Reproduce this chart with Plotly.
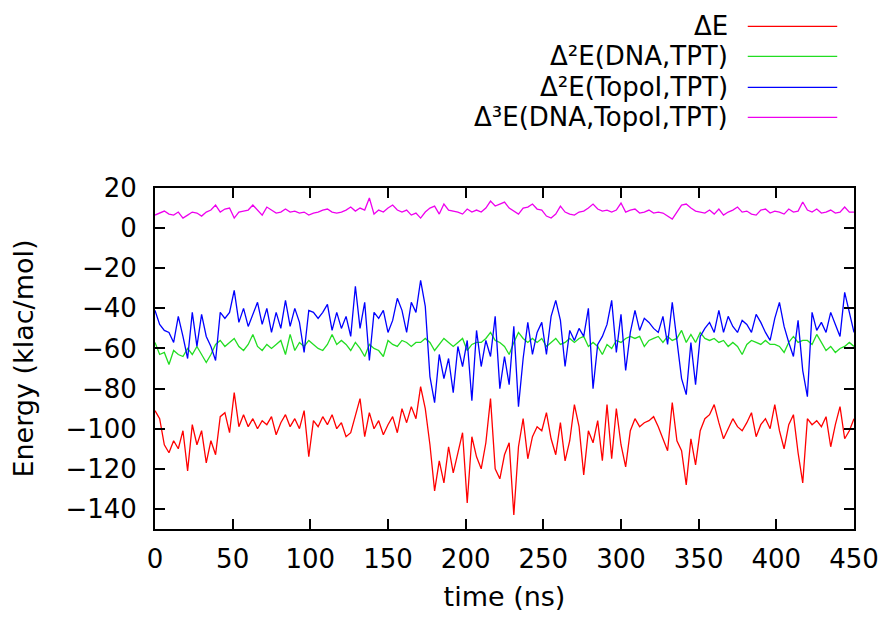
import plotly.graph_objects as go

# time axis (ns), one sample every 3 ns
time_ns = list(range(0, 451, 3))

dE = [
    -91, -95, -108, -112, -106, -110, -101, -121, -98, -108,
    -101, -117, -106, -113, -94, -92, -102, -82, -99, -93,
    -99, -95, -100, -96, -98, -94, -103, -97, -93, -99,
    -95, -100, -91, -114, -96, -99, -94, -98, -93, -100,
    -97, -104, -102, -93, -85, -104, -92, -100, -96, -103,
    -98, -94, -102, -90, -97, -89, -95, -79, -90, -108,
    -131, -116, -127, -109, -122, -112, -102, -137, -104, -114,
    -120, -107, -85, -120, -125, -113, -107, -143, -109, -95,
    -115, -104, -99, -101, -92, -105, -113, -97, -116, -106,
    -88, -99, -123, -101, -107, -96, -116, -88, -115, -90,
    -108, -119, -101, -95, -99, -97, -96, -94, -99, -105,
    -111, -87, -106, -111, -128, -105, -118, -101, -95, -93,
    -88, -97, -105, -100, -95, -99, -101, -97, -92, -104,
    -98, -95, -100, -88, -101, -110, -98, -93, -112, -127,
    -95, -98, -96, -99, -94, -109, -98, -89, -105, -101,
    -95,
]

d2E_dna_tpt = [
    -57, -63, -62, -68, -61, -63, -64, -60, -63, -59,
    -63, -67, -63, -58, -56, -59, -57, -55, -59, -61,
    -58, -53, -59, -61, -58, -60, -58, -56, -63, -53,
    -61, -57, -59, -56, -58, -60, -61, -58, -53, -58,
    -56, -58, -61, -57, -60, -64, -58, -60, -61, -64,
    -56, -58, -59, -56, -57, -59, -57, -57, -55, -57,
    -61, -58, -55, -57, -59, -57, -55, -61, -58, -57,
    -57, -55, -52, -56, -57, -59, -63, -57, -52, -55,
    -57, -55, -57, -55, -59, -57, -55, -58, -57, -55,
    -57, -55, -54, -59, -57, -59, -63, -58, -60, -56,
    -57, -55, -54, -55, -54, -59, -56, -55, -54, -57,
    -54, -56, -55, -51, -57, -53, -57, -52, -55, -56,
    -55, -57, -56, -59, -57, -59, -63, -58, -56, -57,
    -58, -56, -58, -58, -59, -62, -57, -54, -57, -56,
    -56, -58, -53, -57, -61, -59, -62, -60, -59, -57,
    -59,
]

d2E_topo_tpt = [
    -41, -48, -51, -52, -57, -44, -54, -65, -42, -59,
    -43, -54, -59, -66, -42, -45, -42, -31, -47, -40,
    -49, -43, -37, -48, -40, -52, -42, -50, -36, -49,
    -40, -47, -62, -41, -42, -45, -42, -38, -51, -42,
    -50, -44, -54, -29, -50, -37, -66, -42, -45, -41,
    -52, -46, -35, -41, -52, -37, -42, -26, -39, -74,
    -87, -63, -75, -65, -82, -59, -69, -56, -86, -51,
    -69, -56, -64, -44, -80, -64, -78, -49, -89, -65,
    -47, -63, -52, -47, -63, -44, -36, -46, -69, -51,
    -56, -50, -54, -40, -80, -58, -54, -48, -36, -62,
    -43, -71, -52, -41, -51, -45, -47, -50, -52, -44,
    -58, -37, -55, -75, -83, -57, -78, -54, -50, -47,
    -52, -41, -52, -44, -49, -52, -46, -48, -52, -43,
    -47, -52, -56, -45, -37, -49, -57, -64, -46, -71,
    -84, -42, -51, -47, -52, -42, -48, -54, -32, -42,
    -52,
]

d3E_dna_topo_tpt = [
    6.5, 7.5, 8.5, 7, 6.5, 8, 5, 6.5, 8, 7.5,
    6, 8, 9, 11.5, 8, 9.5, 10, 5, 8, 8.5,
    9, 11.5, 9, 6.5, 10.5, 9, 7.5, 8, 9.5, 8,
    8.5, 7.5, 8, 6.5, 7.5, 8, 9, 9.5, 8, 7.5,
    8, 9, 10.5, 8.5, 10, 9, 15, 7, 9, 8,
    10, 11.5, 9, 8, 9, 6.5, 7.5, 5, 8, 10,
    11, 7, 12, 9, 8.5, 8, 7, 9.5, 8, 9,
    8, 10, 13.5, 11, 12, 13, 10, 8.5, 7, 10,
    10.5, 12, 9.5, 9, 6, 5, 7, 11, 8, 7,
    6.5, 8, 8.5, 10, 12, 9.5, 8.5, 9, 8, 9,
    12.5, 8, 9, 9.5, 7.5, 8, 9, 7.5, 8, 7.5,
    6, 4.5, 8, 11.5, 12, 10, 8.5, 8, 7.5, 9,
    7, 9.5, 6.5, 8, 9, 10.5, 8, 8.5, 7, 6.5,
    9, 9.5, 7.5, 8.5, 8, 7, 9.5, 8, 8.5, 13,
    9, 8, 9.5, 7.5, 8, 9, 7.5, 8, 10.5, 8,
    8,
]

series_names = [
    "ΔE",
    "Δ²E(DNA,TPT)",
    "Δ²E(TopoI,TPT)",
    "Δ³E(DNA,TopoI,TPT)",
]
series_values = [dE, d2E_dna_tpt, d2E_topo_tpt, d3E_dna_topo_tpt]
colors = ["#ff0000", "#22dd22", "#0000ff", "#ee00ee"]

x_ticks = list(range(0, 451, 50))
y_ticks = list(range(-140, 21, 20))

fig = go.Figure()
for name, vals, col in zip(series_names, series_values, colors):
    fig.add_trace(go.Scatter(x=time_ns, y=vals, mode="lines", name=name,
                             line=dict(color=col, width=1.3), showlegend=False))

FONT = "DejaVu Sans"

# gnuplot-style key: right-aligned text with line sample to its right
legend_y = [1.474, 1.386, 1.295, 1.207]
for name, col, ly in zip(series_names, colors, legend_y):
    fig.add_annotation(x=0.822, y=ly, xref="paper", yref="paper", text=name,
                       showarrow=False, xanchor="right", yanchor="middle",
                       font=dict(family=FONT, size=26, color="black"))
    fig.add_shape(type="line", xref="paper", yref="paper", x0=0.848, x1=0.976,
                  y0=ly, y1=ly, line=dict(color=col, width=1.3))

axis_common = dict(showline=True, linecolor="black", linewidth=2, mirror="ticks",
                   ticks="inside", ticklen=10, tickwidth=2, tickcolor="black",
                   showgrid=False, zeroline=False,
                   tickfont=dict(family=FONT, size=26, color="black"))

fig.update_xaxes(range=[0, 450], tickvals=x_ticks,
                 title=dict(text="time (ns)", font=dict(family=FONT, size=27, color="black"), standoff=14),
                 ticklabelstandoff=6, **axis_common)
fig.update_yaxes(range=[-150, 20], tickvals=y_ticks,
                 title=dict(text="Energy (klac/mol)", font=dict(family=FONT, size=27, color="black"), standoff=24),
                 ticklabelstandoff=11, **axis_common)

fig.update_layout(width=890, height=622, plot_bgcolor="white", paper_bgcolor="white",
                  margin=dict(l=155, r=36, t=188, b=93),
                  font=dict(family=FONT, color="black"))

fig.write_html("out.html")
